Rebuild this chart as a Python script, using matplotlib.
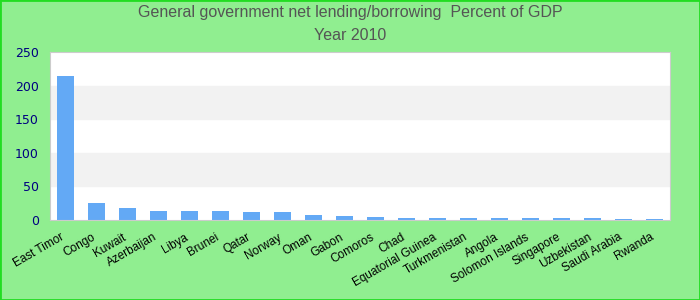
import numpy as np
import matplotlib.pyplot as plt
import matplotlib.transforms as mtransforms
from matplotlib.patches import Rectangle

countries = ['East Timor', 'Congo', 'Kuwait', 'Azerbaijan', 'Libya', 'Brunei', 'Qatar',
             'Norway', 'Oman', 'Gabon', 'Comoros', 'Chad', 'Equatorial Guinea',
             'Turkmenistan', 'Angola', 'Solomon Islands', 'Singapore', 'Uzbekistan',
             'Saudi Arabia', 'Rwanda']
values = [214, 25.3, 18, 13.4, 13.4, 13.4, 12, 12, 7.4, 6, 4.5, 3, 3, 3, 3, 3, 3, 3, 1.5, 1.5]
yticks = [0, 50, 100, 150, 200, 250]

fig = plt.figure(figsize=(7, 3), dpi=100, facecolor='#90ee90')
fig.patches.append(Rectangle((0, 0), 1, 1, transform=fig.transFigure, fill=False,
                             edgecolor='#22dd22', linewidth=2))
ax = fig.add_axes([50 / 700, 80 / 300, 620 / 700, 168 / 300])
ax.set_facecolor('white')

# alternating horizontal bands
for i in range(len(yticks) - 1):
    if i % 2 == 1:
        ax.axhspan(yticks[i], yticks[i + 1], color='#f2f2f2', zorder=0)

x = np.arange(len(countries))
ax.bar(x, values, width=0.55, color='#63a9f5', zorder=2)
ax.set_xlim(-0.5, len(countries) - 0.5)
ax.set_ylim(0, 250)
ax.set_yticks(yticks)
ax.tick_params(axis='y', length=0, labelsize=9, labelcolor='#000080', pad=8)
ax.set_xticks(x)
ax.set_xticklabels(countries, rotation=30, ha='right', rotation_mode='anchor',
                   fontsize=8.5, family='Liberation Sans')
ax.tick_params(axis='x', length=0, pad=8)
# nudge labels a bit to the left like the original
shift = mtransforms.ScaledTranslation(-5 / 100, 0, fig.dpi_scale_trans)
for lbl in ax.get_xticklabels():
    lbl.set_transform(lbl.get_transform() + shift)
for s in ax.spines.values():
    s.set_color('#cccccc')

fig.text(0.5, 1 - 13 / 300, 'General government net lending/borrowing  Percent of GDP',
         ha='center', va='center', fontsize=11.5, color='#555555', family='Liberation Sans')
fig.text(0.5, 1 - 36 / 300, 'Year 2010', ha='center', va='center', fontsize=11.5,
         color='#555555', family='Liberation Sans')

fig.savefig('out.png', dpi=100, facecolor=fig.get_facecolor())
